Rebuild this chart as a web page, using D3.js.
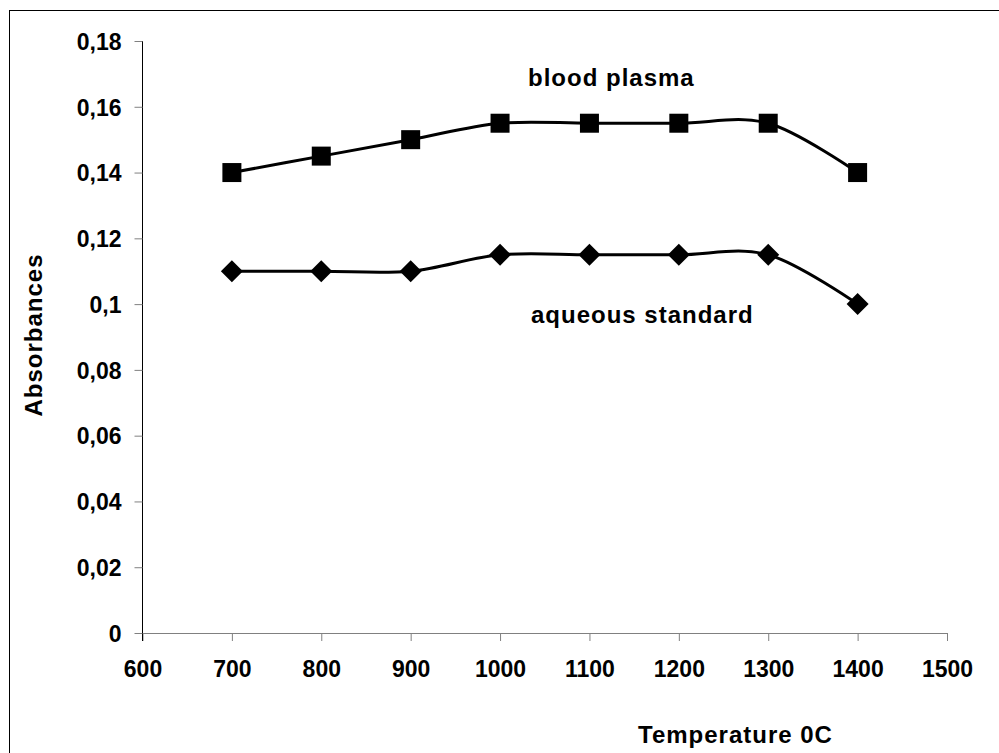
<!DOCTYPE html>
<html>
<head>
<meta charset="utf-8">
<script src="https://cdn.jsdelivr.net/npm/d3@7"></script>
<style>
  body { margin: 0; background: #fff; }
  text { font-family: "Liberation Sans", Arial, sans-serif; font-weight: bold; fill: #000; }
  .frame { fill: none; stroke: #000; stroke-width: 1; }
  .line { fill: none; stroke: #000; stroke-width: 3; }
  .axis path, .axis line { stroke: #808080; }
  .axis text { font-size: 23px; }
  .label { font-size: 24px; letter-spacing: 1px; }
</style>
</head>
<body>
<div id="chart"></div>
<script>
var width = 999,
    height = 753;

var temperatures = [700, 800, 900, 1000, 1100, 1200, 1300, 1400];
var bloodPlasma = [0.14, 0.145, 0.15, 0.155, 0.155, 0.155, 0.155, 0.14];
var aqueousStandard = [0.11, 0.11, 0.11, 0.115, 0.115, 0.115, 0.115, 0.10];

var xTicks = [600, 700, 800, 900, 1000, 1100, 1200, 1300, 1400, 1500];
var yTicks = [0, 0.02, 0.04, 0.06, 0.08, 0.1, 0.12, 0.14, 0.16, 0.18];
var yTickLabels = ["0", "0,02", "0,04", "0,06", "0,08", "0,1", "0,12", "0,14", "0,16", "0,18"];

var x = d3.scaleLinear()
    .domain([600, 1500])
    .range([142.5, 947]);

var y = d3.scaleLinear()
    .domain([0, 0.18])
    .range([633, 41]);

var svg = d3.select("#chart").append("svg")
    .attr("width", width)
    .attr("height", height);

svg.append("rect")
    .attr("class", "frame")
    .attr("x", 9.5)
    .attr("y", 10.5)
    .attr("width", 1100)
    .attr("height", 900);

// x axis
var gx = svg.append("g")
    .attr("class", "axis")
    .attr("transform", "translate(0," + y(0) + ")")
    .call(d3.axisBottom(x).tickValues(xTicks).tickSize(8).tickSizeOuter(0).tickFormat(d3.format("d")));
gx.selectAll("text").attr("dy", null).attr("y", 44);

// y axis
var gy = svg.append("g")
    .attr("class", "axis")
    .attr("transform", "translate(" + x(600) + ",0)")
    .call(d3.axisLeft(y).tickValues(yTicks).tickSize(8).tickSizeOuter(0)
      .tickFormat(function(d, i) { return yTickLabels[i]; }));
gy.select(".domain").style("stroke", "#000").attr("d", "M0," + y(0.18) + "V" + (y(0) + 8));
gy.selectAll("text").attr("x", -21).attr("dy", "0.36em");

var line = d3.line()
    .x(function(d, i) { return x(temperatures[i]); })
    .y(function(d) { return y(d); })
    .curve(d3.curveCardinal.tension(0));

svg.append("path")
    .datum(bloodPlasma)
    .attr("class", "line")
    .attr("d", line);

svg.append("path")
    .datum(aqueousStandard)
    .attr("class", "line")
    .attr("d", line);

svg.selectAll(".square")
    .data(bloodPlasma)
    .enter().append("rect")
    .attr("class", "square")
    .attr("x", function(d, i) { return x(temperatures[i]) - 9.5; })
    .attr("y", function(d) { return y(d) - 9.5; })
    .attr("width", 19)
    .attr("height", 19)
    .attr("fill", "#000");

svg.selectAll(".diamond")
    .data(aqueousStandard)
    .enter().append("path")
    .attr("class", "diamond")
    .attr("transform", function(d, i) {
      return "translate(" + x(temperatures[i]) + "," + y(d) + ")";
    })
    .attr("d", "M0,-11L11,0L0,11L-11,0Z")
    .attr("fill", "#000");

svg.append("text")
    .attr("class", "label")
    .attr("x", 528)
    .attr("y", 86)
    .text("blood plasma");

svg.append("text")
    .attr("class", "label")
    .attr("x", 531)
    .attr("y", 323)
    .text("aqueous standard");

svg.append("text")
    .attr("class", "label")
    .attr("text-anchor", "middle")
    .attr("transform", "translate(42,335) rotate(-90)")
    .text("Absorbances");

svg.append("text")
    .attr("class", "label")
    .attr("x", 638)
    .attr("y", 743)
    .text("Temperature 0C");
</script>
</body>
</html>
